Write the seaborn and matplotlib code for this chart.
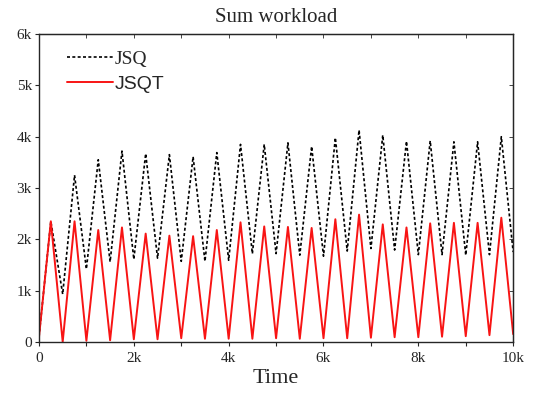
import matplotlib
matplotlib.use("Agg")
import matplotlib.pyplot as plt
from matplotlib.font_manager import FontProperties
from matplotlib.ticker import FuncFormatter, MultipleLocator
import numpy as np
import pandas as pd
import seaborn as sns

# sample times: every 250 time units (peaks at odd quarters, troughs at multiples of 500)
time = list(range(0, 10001, 250))

jsq = [0.10, 2.35, 0.93, 3.25, 1.42, 3.55, 1.56, 3.72, 1.61, 3.67,
       1.63, 3.65, 1.57, 3.61, 1.57, 3.69, 1.59, 3.85, 1.72, 3.85,
       1.72, 3.88, 1.69, 3.81, 1.67, 3.98, 1.77, 4.13, 1.82, 4.03,
       1.79, 3.91, 1.70, 3.92, 1.70, 3.90, 1.69, 3.90, 1.70, 4.00,
       1.75]

jsqt = [0.09, 2.35, 0.00, 2.35, 0.02, 2.18, 0.03, 2.23, 0.05, 2.11,
        0.05, 2.07, 0.07, 2.06, 0.06, 2.18, 0.06, 2.33, 0.06, 2.25,
        0.07, 2.24, 0.06, 2.22, 0.07, 2.39, 0.07, 2.48, 0.08, 2.29,
        0.09, 2.23, 0.09, 2.31, 0.10, 2.32, 0.11, 2.32, 0.13, 2.42,
        0.15]

df = pd.DataFrame({
    "Time": time * 2,
    "value": [v * 1000 for v in jsq + jsqt],
    "policy": ["JSQ"] * len(time) + ["JSQT"] * len(time),
})

SERIF = ["Liberation Serif", "DejaVu Serif"]
SANS = ["Liberation Sans", "DejaVu Sans"]

sns.set_style("ticks")
plt.rcParams["font.family"] = SERIF

fig = plt.figure(figsize=(5.34, 3.97), dpi=100)
ax = fig.add_axes([0.073, 0.139, 0.888, 0.775])

sns.lineplot(data=df, x="Time", y="value", hue="policy", style="policy",
             palette={"JSQ": "black", "JSQT": "#f81414"},
             dashes={"JSQ": (1.8, 1.4), "JSQT": ""},
             ax=ax, legend=False)
for line, lw in zip(ax.lines, [1.2, 1.4]):
    line.set_linewidth(lw)

ax.set_xlim(0, 10000)
ax.set_ylim(0, 6000)

def kfmt(v, pos):
    if v == 0:
        return "0"
    return f"{int(round(v / 1000))}k"

def kfmt_even(v, pos):
    if int(round(v)) % 2000 != 0:
        return ""
    return kfmt(v, pos)

ax.xaxis.set_major_locator(MultipleLocator(1000))
ax.xaxis.set_major_formatter(FuncFormatter(kfmt_even))
ax.yaxis.set_major_locator(MultipleLocator(1000))
ax.yaxis.set_major_formatter(FuncFormatter(kfmt))
ax.tick_params(direction="out", length=3, width=0.8, labelsize=11)
ax.tick_params(axis="x", pad=4)
ax.tick_params(axis="y", pad=2)

for s in ax.spines.values():
    s.set_linewidth(1.0)

# mirrored inward ticks on top and right
top = ax.secondary_xaxis("top")
top.xaxis.set_major_locator(MultipleLocator(1000))
top.tick_params(direction="in", length=3, width=0.6, labeltop=False)
right = ax.secondary_yaxis("right")
right.yaxis.set_major_locator(MultipleLocator(1000))
right.tick_params(direction="in", length=3, width=0.6, labelright=False)

ax.set_title("Sum workload", fontsize=15, pad=9)
ax.set_xlabel("Time", fontsize=16, labelpad=3)
ax.set_ylabel("")

# legend, no frame; first entry serif, second sans as in the source
handles = ax.lines[:2]
leg = ax.legend(handles, ["JSQ", "JSQT"], loc="upper left", frameon=False,
                bbox_to_anchor=(0.035, 0.985), handlelength=2.35, handletextpad=0.1,
                labelspacing=0.38, borderaxespad=0.2,
                prop={"family": SANS, "size": 14})
leg.get_texts()[0].set_fontproperties(FontProperties(family=SERIF, size=14))
leg.get_texts()[1].set_fontproperties(FontProperties(family=SANS, size=14))

fig.savefig("out.png", dpi=100)
